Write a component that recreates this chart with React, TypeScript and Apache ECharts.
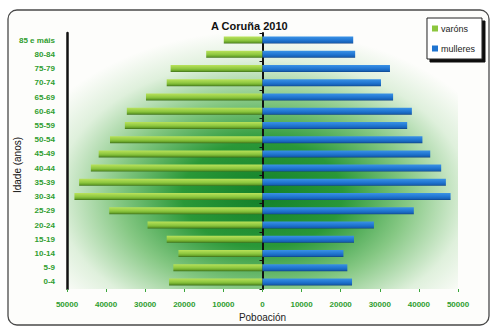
import React, { useEffect, useRef } from "react";
import * as echarts from "echarts";

const ages = ["0-4", "5-9", "10-14", "15-19", "20-24", "25-29", "30-34", "35-39", "40-44", "45-49", "50-54", "55-59", "60-64", "65-69", "70-74", "75-79", "80-84", "85 e máis"];
const varons = [23900, 22800, 21500, 24500, 29400, 39200, 48100, 46900, 43900, 41900, 39000, 35200, 34700, 29800, 24500, 23500, 14400, 9900];
const mulleres = [22900, 21700, 20700, 23400, 28500, 38700, 48100, 46900, 45700, 42900, 40900, 37000, 38200, 33400, 30300, 32600, 23700, 23200];
const xTicks = { min: -50000, max: 50000, interval: 10000 };
const yTitle = "Idade (anos)";

const GREEN_TXT = "#2f9d2f";

export default function App() {
  const ref = useRef<HTMLDivElement>(null);
  useEffect(() => {
    const chart = echarts.init(ref.current!, null, { renderer: "svg" });
    chart.setOption({
      animation: false,
      backgroundColor: "#ffffff",
      graphic: [
        {
          type: "rect",
          z: -10,
          shape: { x: 8, y: 10, width: 481, height: 315, r: 9 },
          style: { fill: "#fdfdfb", stroke: "#4a4a4a", lineWidth: 1.3 },
        },
        {
          type: "text",
          x: 17,
          y: 165,
          rotation: Math.PI / 2,
          style: {
            text: yTitle,
            align: "center",
            verticalAlign: "middle",
            fontFamily: "Liberation Sans, Arial",
            fontSize: 10,
            fill: "#111",
          },
        },
      ],
      title: {
        text: "A Coruña 2010",
        left: 206,
        top: 15,
        textStyle: { fontFamily: "Liberation Sans, Arial", fontSize: 11, fontWeight: "bold", color: "#111" },
      },
      legend: {
        orient: "vertical",
        right: 10,
        top: 18,
        padding: [6, 7, 6, 5],
        itemGap: 11,
        itemWidth: 6,
        itemHeight: 6,
        icon: "rect",
        backgroundColor: "#ffffff",
        borderColor: "#222",
        borderWidth: 1,
        shadowColor: "rgba(0,0,0,0.95)",
        shadowBlur: 0,
        shadowOffsetX: 3,
        shadowOffsetY: 3,
        textStyle: { fontFamily: "Liberation Sans, Arial", fontSize: 9, color: "#222", padding: [0, 0, 0, -2] },
        data: [
          { name: "varóns", itemStyle: { color: "#8cc63e" } },
          { name: "mulleres", itemStyle: { color: "#1f74d0" } },
        ],
      },
      grid: {
        left: 67,
        right: 34,
        top: 33,
        bottom: 40,
        outerBoundsMode: "none",
        containLabel: false,
        show: true,
        borderWidth: 0,
        backgroundColor: {
          type: "radial",
          x: 0.5,
          y: 0.63,
          r: 0.64,
          colorStops: [
            { offset: 0, color: "#12802a" },
            { offset: 0.32, color: "#2a9838" },
            { offset: 0.58, color: "#86c884" },
            { offset: 0.82, color: "#dff0dc" },
            { offset: 1, color: "#fdfdfb" },
          ],
        },
      },
      xAxis: {
        type: "value",
        min: xTicks.min,
        max: xTicks.max,
        interval: xTicks.interval,
        name: "Poboación",
        nameLocation: "middle",
        nameGap: 23,
        nameTextStyle: { fontFamily: "Liberation Sans, Arial", fontSize: 10, color: "#222" },
        axisLine: { lineStyle: { color: "#3aa53a", width: 1.5 } },
        axisTick: { show: true, length: 3, lineStyle: { color: "#3aa53a" } },
        splitLine: { show: false },
        axisLabel: {
          margin: 11,
          formatter: (v: number) => String(Math.abs(v)),
          color: GREEN_TXT,
          fontFamily: "Liberation Sans, Arial",
          fontSize: 8,
          fontWeight: "bold",
        },
      },
      yAxis: [
        {
          type: "category",
          data: ages,
          position: "left",
          axisLine: { onZero: false, lineStyle: { color: "#111", width: 2.5 } },
          axisTick: { show: false },
          splitLine: { show: false },
          axisLabel: {
            margin: 12,
            color: GREEN_TXT,
            fontFamily: "Liberation Sans, Arial",
            fontSize: 8,
            fontWeight: "bold",
          },
        },
        {
          type: "category",
          data: ages,
          position: "left",
          axisLine: { onZero: true, lineStyle: { color: "#111", width: 2 } },
          axisTick: { show: true, length: 3, lineStyle: { color: "#111" } },
          axisLabel: { show: false },
          splitLine: { show: false },
        },
      ],
      series: [
        {
          name: "varóns",
          type: "bar",
          yAxisIndex: 0,
          barWidth: 7,
          barGap: "-100%",
          data: varons.map((v) => -v),
          itemStyle: {
            color: {
              type: "linear",
              x: 0, y: 0, x2: 0, y2: 1,
              colorStops: [
                { offset: 0, color: "#b9e25a" },
                { offset: 0.55, color: "#8cc63e" },
                { offset: 0.8, color: "#6aa52a" },
                { offset: 1, color: "#3d6e1a" },
              ],
            },
          },
        },
        {
          name: "mulleres",
          type: "bar",
          yAxisIndex: 0,
          barWidth: 7,
          barGap: "-100%",
          data: mulleres,
          itemStyle: {
            color: {
              type: "linear",
              x: 0, y: 0, x2: 0, y2: 1,
              colorStops: [
                { offset: 0, color: "#3a92e6" },
                { offset: 0.55, color: "#1f74d0" },
                { offset: 0.85, color: "#1660b4" },
                { offset: 1, color: "#0e3f80" },
              ],
            },
          },
        },
      ],
    });
    return () => chart.dispose();
  }, []);
  return <div ref={ref} style={{ position: "fixed", left: 0, top: 0, width: 492, height: 329 }} />;
}
